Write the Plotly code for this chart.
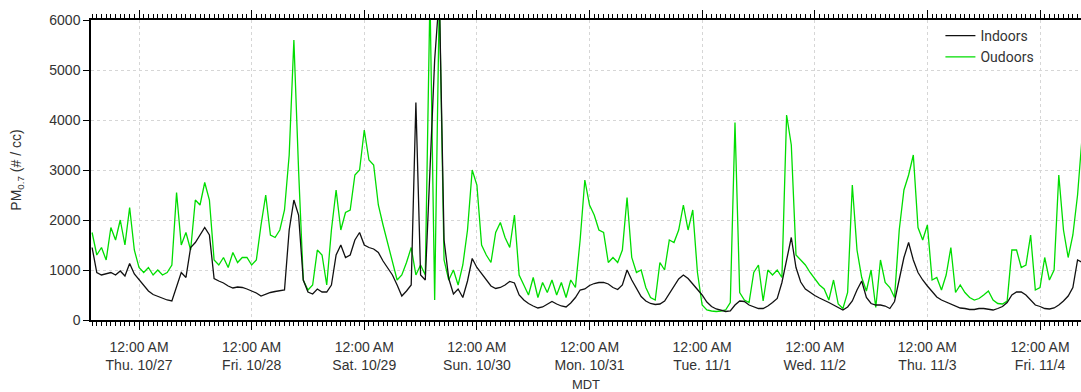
import pandas as pd
import plotly.graph_objects as go

# Hourly readings, starting 2016-10-26 14:00 MDT
start_time = "2016-10-26 14:00"

indoors = [
    1450, 950, 900, 920, 950, 900, 980, 880, 1130, 920,
    800, 680, 580, 510, 470, 430, 400, 380, 650, 950,
    850, 1450, 1550, 1700, 1850, 1700, 830, 780, 740, 680,
    640, 660, 650, 620, 580,
    540, 480, 520, 550, 570,
    580, 600, 1800, 2400, 2100, 800, 560, 520, 620, 560,
    560, 700, 1300, 1500, 1250, 1300, 1600, 1750, 1500, 1450,
    1420, 1350, 1180, 1050, 900, 700, 480, 580, 700, 4350,
    900, 800, 3000, 5200, 6500, 1600, 830, 520, 620, 450,
    780, 1230, 1050, 920, 800, 680, 630, 650, 700, 770,
    740, 500, 400, 330, 280, 240, 260, 310, 370, 320,
    280, 260, 340, 450, 600,
    620, 690, 730, 750, 750,
    720, 650, 610, 700, 1000, 800, 620, 470, 380, 330,
    310, 320, 380, 520, 680, 820, 900, 830, 720, 620,
    500, 360, 270, 220, 200, 170, 180, 300, 380,
    370, 300, 260, 230, 230, 280, 350, 430, 750, 1230, 1650,
    1050, 760, 620, 550, 490, 440, 400, 350, 300, 250,
    200, 260, 380, 600, 780, 450, 330, 300, 300, 280,
    230, 370, 800, 1250,
    1550, 1200, 950, 800, 680, 570,
    460, 400, 360, 310, 280, 240, 230, 210, 210, 230,
    230, 210, 200, 230, 270, 350, 500, 560, 560, 500,
    390, 300, 270, 230, 220, 240, 300, 380, 480, 650,
    1200, 1150,
]

outdoors = [
    1750, 1300, 1450, 1200, 1850, 1600, 2000, 1500, 2250, 1400,
    1050, 950, 1050, 900, 1000, 900, 950, 1100, 2550, 1500,
    1750, 1400, 2400, 2300, 2750, 2400, 1200, 1100, 1250, 1050,
    1350, 1150, 1250, 1250, 1100,
    1200, 1900, 2500, 1700, 1650,
    1800, 2200, 3300, 5600, 3000, 800, 600, 700, 1400, 1300,
    700, 1800, 2600, 1800, 2150, 2200, 2900, 3000, 3800, 3200,
    3100, 2300, 1900, 1550, 1150, 800, 900, 1150, 1450, 900,
    1100, 900, 6500, 400, 6500, 1200, 800, 1000, 700, 1100,
    1800, 3000, 2700, 1500, 1300, 1150, 1750, 1950, 1650, 1450,
    2100, 900, 700, 500, 850, 450, 750, 550, 800, 500,
    750, 450, 800, 650, 1600,
    2800, 2300, 2100, 1800, 1750,
    1150, 1250, 1150, 1400, 2450, 1250, 950, 1000, 650, 450,
    400, 1150, 1000, 1600, 1550, 1800, 2300, 1800, 2200, 950,
    300, 200, 180, 170, 180, 200, 350, 3950, 550,
    400, 350, 950, 1100, 380, 1000, 900, 1000, 850, 4100, 3500,
    1300, 1200, 1100, 950, 830, 700, 620, 400, 800, 320,
    230, 550, 2700, 1400, 850, 580, 1000, 250, 1200, 750,
    650, 450, 1800, 2600,
    2900, 3300, 1850, 1600, 1900, 800,
    850, 600, 900, 1450, 550, 700, 550, 450, 400, 430,
    500, 580, 400, 330, 320, 380, 1400, 1400, 1050, 1100,
    1700, 600, 650, 1250, 800, 1000, 2900, 1800, 1250, 1700,
    2500, 3700,
]

tick_dates = ["2016-10-27", "2016-10-28", "2016-10-29", "2016-10-30", "2016-10-31",
              "2016-11-01", "2016-11-02", "2016-11-03", "2016-11-04"]
tick_labels = ["12:00 AM<br>Thu. 10/27", "12:00 AM<br>Fri. 10/28", "12:00 AM<br>Sat. 10/29",
               "12:00 AM<br>Sun. 10/30", "12:00 AM<br>Mon. 10/31", "12:00 AM<br>Tue. 11/1",
               "12:00 AM<br>Wed. 11/2", "12:00 AM<br>Thu. 11/3", "12:00 AM<br>Fri. 11/4"]

times = pd.date_range(start_time, periods=len(indoors), freq="h")
x_range = ["2016-10-26 13:46", "2016-11-04 08:44"]

fig = go.Figure()
fig.add_trace(go.Scatter(x=times, y=outdoors, mode="lines", name="Oudoors",
                         line=dict(color="#00DD00", width=1.3), legendrank=2))
fig.add_trace(go.Scatter(x=times, y=indoors, mode="lines", name="Indoors",
                         line=dict(color="#111111", width=1.3), legendrank=1))

tick_font = dict(family="Liberation Sans, Arial, sans-serif", size=14, color="#333333")
title_font = dict(family="Liberation Sans, Arial, sans-serif", size=13, color="#333333")

fig.update_layout(
    width=1081, height=392,
    margin=dict(l=91, r=0, t=20, b=72),
    plot_bgcolor="white", paper_bgcolor="white",
    font=tick_font,
    showlegend=True,
    legend=dict(x=0.958, xanchor="right", y=1.0, yanchor="top",
                bgcolor="rgba(0,0,0,0)", font=dict(family="Roboto", size=14, color="#333333"),
                tracegroupgap=0, itemwidth=30),
    xaxis=dict(
        type="date", range=x_range,
        tickmode="array", tickvals=tick_dates, ticktext=tick_labels,
        ticks="outside", ticklen=8, tickcolor="black", tickwidth=1,
        ticklabelstandoff=5,
        showline=True, linecolor="black", linewidth=1.5, mirror="ticks",
        showgrid=True, gridcolor="#d6d6d6", griddash="dot", gridwidth=1,
        minor=dict(dtick=3600000, tick0="2016-10-27", ticks="outside", ticklen=4,
                   tickcolor="black", showgrid=False),
        title=dict(text="MDT", font=title_font, standoff=10),
        tickfont=tick_font,
        zeroline=False,
    ),
    yaxis=dict(
        range=[0, 6000], tickmode="linear", tick0=0, dtick=1000,
        ticks="outside", ticklen=6, tickcolor="black",
        showline=True, linecolor="black", linewidth=1.5, mirror=False,
        showgrid=True, gridcolor="#d6d6d6", griddash="dot", gridwidth=1,
        zeroline=False,
        title=dict(text="PM<sub>0.7</sub> (# / cc)", font=dict(title_font, size=14), standoff=24),
        tickfont=tick_font,
    ),
)

fig.write_html("out.html")
